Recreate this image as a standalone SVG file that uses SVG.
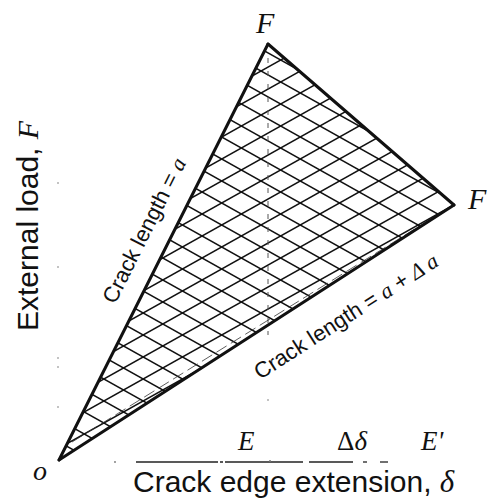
<svg xmlns="http://www.w3.org/2000/svg" width="496" height="504" viewBox="0 0 496 504">
  <style>
    .sans { font-family: "Liberation Sans", Arial, sans-serif; fill: #111; }
    .ital { font-family: "Liberation Serif", "Times New Roman", serif; font-style: italic; fill: #111; }
    .serif { font-family: "Liberation Serif", "Times New Roman", serif; fill: #111; }
    .hatch line { stroke: #111; stroke-width: 1.5; }
    .dot { fill: #777; }
  </style>
  <defs>
    <clipPath id="triClip">
      <polygon points="59,460 268,44 454,205"/>
    </clipPath>
  </defs>
  <rect width="496" height="504" fill="#fff"/>

  <!-- hatching -->
  <g id="hatch" class="hatch" clip-path="url(#triClip)">
    <line x1="40" y1="-74.8" x2="470" y2="166"/>
    <line x1="40" y1="-52.8" x2="470" y2="188"/>
    <line x1="40" y1="-30.8" x2="470" y2="210"/>
    <line x1="40" y1="-8.8" x2="470" y2="232"/>
    <line x1="40" y1="13.2" x2="470" y2="254"/>
    <line x1="40" y1="35.2" x2="470" y2="276"/>
    <line x1="40" y1="57.2" x2="470" y2="298"/>
    <line x1="40" y1="79.2" x2="470" y2="320"/>
    <line x1="40" y1="101.2" x2="470" y2="342"/>
    <line x1="40" y1="123.2" x2="470" y2="364"/>
    <line x1="40" y1="145.2" x2="470" y2="386"/>
    <line x1="40" y1="167.2" x2="470" y2="408"/>
    <line x1="40" y1="189.2" x2="470" y2="430"/>
    <line x1="40" y1="211.2" x2="470" y2="452"/>
    <line x1="40" y1="233.2" x2="470" y2="474"/>
    <line x1="40" y1="255.2" x2="470" y2="496"/>
    <line x1="40" y1="277.2" x2="470" y2="518"/>
    <line x1="40" y1="299.2" x2="470" y2="540"/>
    <line x1="40" y1="321.2" x2="470" y2="562"/>
    <line x1="40" y1="343.2" x2="470" y2="584"/>
    <line x1="40" y1="365.2" x2="470" y2="606"/>
    <line x1="40" y1="387.2" x2="470" y2="628"/>
    <line x1="40" y1="409.2" x2="470" y2="650"/>
    <line x1="40" y1="431.2" x2="470" y2="672"/>
    <line x1="40" y1="453.2" x2="470" y2="694"/>

    <line x1="40" y1="172.8" x2="470" y2="-68"/>
    <line x1="40" y1="194.8" x2="470" y2="-46"/>
    <line x1="40" y1="216.8" x2="470" y2="-24"/>
    <line x1="40" y1="238.8" x2="470" y2="-2"/>
    <line x1="40" y1="260.8" x2="470" y2="20"/>
    <line x1="40" y1="282.8" x2="470" y2="42"/>
    <line x1="40" y1="304.8" x2="470" y2="64"/>
    <line x1="40" y1="326.8" x2="470" y2="86"/>
    <line x1="40" y1="348.8" x2="470" y2="108"/>
    <line x1="40" y1="370.8" x2="470" y2="130"/>
    <line x1="40" y1="392.8" x2="470" y2="152"/>
    <line x1="40" y1="414.8" x2="470" y2="174"/>
    <line x1="40" y1="436.8" x2="470" y2="196"/>
    <line x1="40" y1="458.8" x2="470" y2="218"/>
    <line x1="40" y1="480.8" x2="470" y2="240"/>
  </g>

  <!-- faint guide lines -->
  <g id="guides" fill="none">
    <line x1="268" y1="58" x2="268" y2="335" stroke="#555" stroke-width="1" stroke-dasharray="5 8"/>
    <line x1="72" y1="442" x2="447" y2="209" stroke="#333" stroke-width="0.8" stroke-dasharray="12 5"/>
  </g>

  <!-- curves (triangle edges) -->
  <g id="connectors" fill="none" stroke="#111" stroke-width="3" stroke-linejoin="round" stroke-linecap="round">
    <line id="line-a" x1="59" y1="460" x2="268" y2="44"/>
    <line id="line-unload" x1="268" y1="44" x2="454" y2="205"/>
    <line id="line-a-da" x1="59" y1="460" x2="454" y2="205"/>
  </g>

  <!-- x axis remnants -->
  <g id="x-axis" stroke="#222" stroke-width="1.3" fill="none">
    <line x1="136" y1="462" x2="215" y2="462"/>
    <line x1="215" y1="462" x2="228" y2="462" stroke-dasharray="3 2"/>
    <line x1="228" y1="462" x2="303" y2="462"/>
    <line x1="309" y1="462" x2="353" y2="462"/>
    <line x1="363" y1="462" x2="367" y2="462"/>
    <line x1="380" y1="462" x2="388" y2="462"/>
  </g>
  <g id="specks">
    <circle class="dot" cx="115" cy="462" r="0.9"/>
    <circle class="dot" cx="58" cy="183" r="0.8"/>
    <circle class="dot" cx="58" cy="267" r="0.8"/>
    <circle class="dot" cx="58" cy="358" r="0.8"/>
    <circle class="dot" cx="58" cy="367" r="0.8"/>
    <circle class="dot" cx="58" cy="407" r="0.8"/>
    <circle class="dot" cx="268" cy="400" r="0.8"/>
    <circle class="dot" cx="270" cy="461" r="1"/>
  </g>

  <!-- labels -->
  <g id="label-F-top"><text class="ital" x="256" y="33" font-size="30">F</text></g>
  <g id="label-F-right"><text class="ital" x="468" y="209" font-size="30">F</text></g>
  <g id="label-o"><text class="ital" x="33" y="480" font-size="28">o</text></g>
  <g id="label-E"><text class="ital" x="238" y="450" font-size="27">E</text></g>
  <g id="label-dDelta"><text class="serif" x="337" y="450" font-size="27">Δ<tspan class="ital">δ</tspan></text></g>
  <g id="label-E-prime"><text class="ital" x="421" y="450" font-size="27">E'</text></g>

  <g id="label-crack-a">
    <text class="sans" font-size="22" transform="translate(115,305) rotate(-63.3)">Crack length = <tspan class="ital">a</tspan></text>
  </g>
  <g id="label-crack-a-da">
    <text class="sans" font-size="22" transform="translate(260,380) rotate(-32.6)">Crack length = <tspan class="ital">a</tspan> + <tspan class="ital">Δ a</tspan></text>
  </g>

  <g id="y-axis-title">
    <text class="sans" font-size="30" transform="translate(38,331) rotate(-90)">External load, <tspan class="ital">F</tspan></text>
  </g>
  <g id="x-axis-title">
    <text class="sans" x="133" y="492" font-size="30">Crack edge extension, <tspan class="ital" font-size="31">δ</tspan></text>
  </g>
</svg>
